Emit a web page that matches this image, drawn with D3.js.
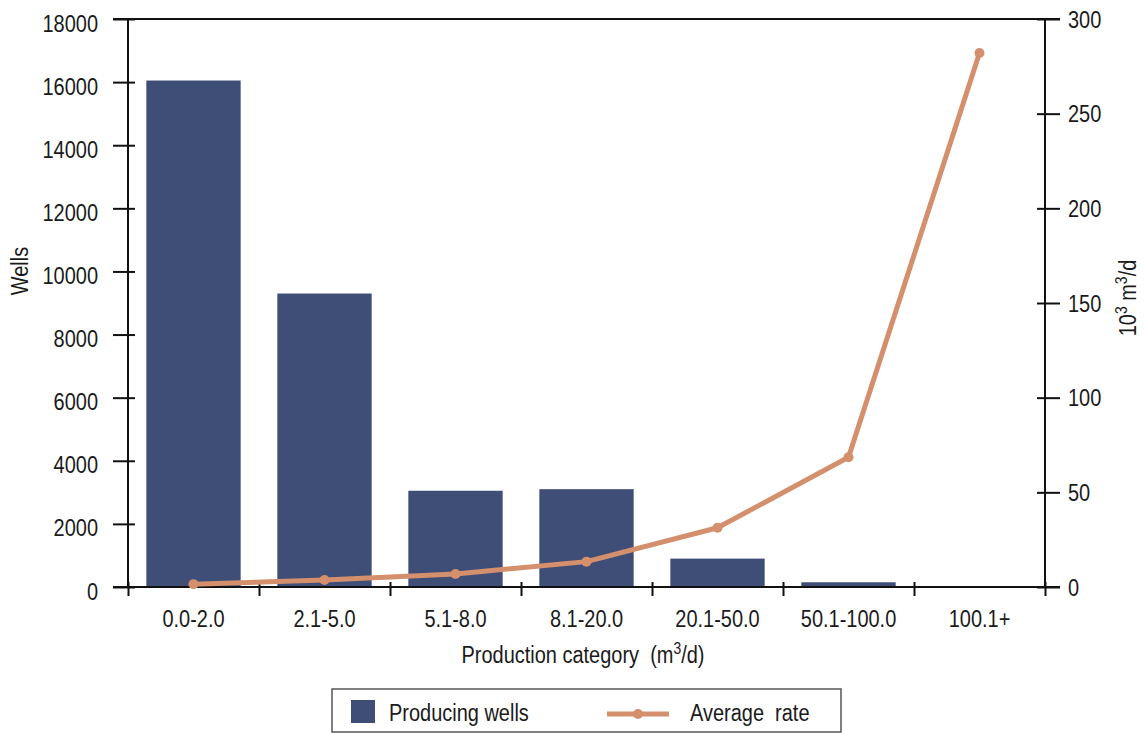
<!DOCTYPE html>
<html>
<head>
<meta charset="utf-8">
<script src="https://cdn.jsdelivr.net/npm/d3@7"></script>
<style>
  body { margin: 0; background: #fff; }
  svg { display: block; font-family: "Liberation Sans", Arial, sans-serif; }
  text { fill: #1a1a1a; }
</style>
</head>
<body>
<svg id="chart"></svg>
<script>
const categories = ['0.0-2.0', '2.1-5.0', '5.1-8.0', '8.1-20.0', '20.1-50.0', '50.1-100.0', '100.1+'];
const producingWells = [16050, 9300, 3050, 3100, 900, 150, 0];
const averageRate = [1.5, 3.7, 6.9, 13.4, 31.3, 68.5, 282];
const leftTicks = [0, 2000, 4000, 6000, 8000, 10000, 12000, 14000, 16000, 18000];
const rightTicks = [0, 50, 100, 150, 200, 250, 300];

const size = {w: 1146, h: 734};
const plot = {l: 128, r: 1045, t: 19, b: 587};
const barColor = '#3f4e77';
const lineColor = '#d48f6c';
const fs = 23.5;      // font size
const sx = 0.85;      // narrow font look

const svg = d3.select('svg#chart')
    .attr('width', size.w)
    .attr('height', size.h);

const x = d3.scaleBand()
    .domain(categories)
    .range([plot.l, plot.r])
    .paddingInner(0.28)
    .paddingOuter(0.14);

const xEdges = d3.scaleLinear()
    .domain([0, categories.length])
    .range([plot.l, plot.r]);

const yL = d3.scaleLinear().domain([0, 18000]).range([plot.b, plot.t]);
const yR = d3.scaleLinear().domain([0, 300]).range([plot.b, plot.t]);

// bars
svg.append('g')
    .selectAll('rect')
    .data(producingWells)
    .join('rect')
    .attr('x', (d, i) => x(categories[i]))
    .attr('y', d => yL(d))
    .attr('width', x.bandwidth())
    .attr('height', d => yL(0) - yL(d))
    .attr('fill', barColor);

// frame line on top
svg.append('line')
    .attr('x1', plot.l - 15).attr('x2', plot.r + 15)
    .attr('y1', plot.t).attr('y2', plot.t)
    .attr('stroke', '#111').attr('stroke-width', 2);

// left axis
svg.append('g')
    .attr('transform', `translate(${plot.l},0)`)
    .call(d3.axisLeft(yL).tickValues(leftTicks).tickSize(15).tickFormat(d => d))
    .call(g => g.select('.domain').remove())
    .call(g => g.selectAll('.tick line').attr('x1', 7).attr('stroke', '#111').attr('stroke-width', 2))
    .call(g => g.selectAll('.tick text')
        .attr('font-size', fs)
        .attr('x', null).attr('dy', null)
        .attr('transform', `translate(-30,12) scale(${sx},1)`));

// right axis
svg.append('g')
    .attr('transform', `translate(${plot.r},0)`)
    .call(d3.axisRight(yR).tickValues(rightTicks).tickSize(15))
    .call(g => g.select('.domain').remove())
    .call(g => g.selectAll('.tick line').attr('x1', -8).attr('stroke', '#111').attr('stroke-width', 2))
    .call(g => g.selectAll('.tick text')
        .attr('font-size', fs)
        .attr('x', null).attr('dy', null)
        .attr('transform', `translate(23,8) scale(${sx},1)`));

svg.append('line')
    .attr('x1', plot.l).attr('x2', plot.l)
    .attr('y1', plot.t).attr('y2', plot.b)
    .attr('stroke', '#111').attr('stroke-width', 2);
svg.append('line')
    .attr('x1', plot.r).attr('x2', plot.r)
    .attr('y1', plot.t).attr('y2', plot.b)
    .attr('stroke', '#111').attr('stroke-width', 2);

// bottom axis: ticks at band edges
svg.append('g')
    .attr('transform', `translate(0,${plot.b})`)
    .call(d3.axisBottom(xEdges).tickValues(d3.range(0, categories.length + 1)).tickSize(9).tickFormat(''))
    .call(g => g.select('.domain').remove())
    .call(g => g.selectAll('.tick line').attr('y1', -5).attr('stroke', '#111').attr('stroke-width', 2));

svg.append('line')
    .attr('x1', plot.l - 15).attr('x2', plot.r + 15)
    .attr('y1', plot.b).attr('y2', plot.b)
    .attr('stroke', '#111').attr('stroke-width', 2);

// category labels
svg.append('g')
    .attr('transform', `translate(0,${plot.b})`)
    .call(d3.axisBottom(x).tickSize(0))
    .call(g => g.select('.domain').remove())
    .call(g => g.selectAll('.tick text')
        .attr('font-size', fs)
        .attr('y', null).attr('dy', null)
        .attr('transform', `translate(0,40) scale(${sx},1)`));

// average rate line
const line = d3.line()
    .x((d, i) => x(categories[i]) + x.bandwidth() / 2)
    .y(d => yR(d));

svg.append('path')
    .datum(averageRate)
    .attr('d', line)
    .attr('fill', 'none')
    .attr('stroke', lineColor)
    .attr('stroke-width', 5)
    .attr('stroke-linejoin', 'round');

svg.append('g')
    .selectAll('circle')
    .data(averageRate)
    .join('circle')
    .attr('cx', (d, i) => x(categories[i]) + x.bandwidth() / 2)
    .attr('cy', d => yR(d))
    .attr('r', 5)
    .attr('fill', lineColor);

// axis titles
const xTitle = svg.append('text')
    .attr('transform', `translate(583,663) scale(${sx},1)`)
    .attr('text-anchor', 'middle')
    .attr('font-size', fs)
    .style('white-space', 'pre');
xTitle.append('tspan').text('Production category  (m');
xTitle.append('tspan').attr('dy', -9).attr('font-size', fs * 0.7).text('3');
xTitle.append('tspan').attr('dy', 9).text('/d)');

svg.append('text')
    .attr('transform', `translate(28,271) rotate(-90) scale(${sx},1)`)
    .attr('text-anchor', 'middle')
    .attr('font-size', fs)
    .text('Wells');

const rTitle = svg.append('text')
    .attr('transform', `translate(1136,298) rotate(-90) scale(${sx},1)`)
    .attr('text-anchor', 'middle')
    .attr('font-size', fs)
    .style('white-space', 'pre');
rTitle.append('tspan').text('10');
rTitle.append('tspan').attr('dy', -9).attr('font-size', fs * 0.7).text('3');
rTitle.append('tspan').attr('dy', 9).text(' m');
rTitle.append('tspan').attr('dy', -9).attr('font-size', fs * 0.7).text('3');
rTitle.append('tspan').attr('dy', 9).text('/d');

// legend
const legend = svg.append('g');
legend.append('rect')
    .attr('x', 332).attr('y', 689)
    .attr('width', 509).attr('height', 43)
    .attr('fill', 'none')
    .attr('stroke', '#555')
    .attr('stroke-width', 1.5);
legend.append('rect')
    .attr('x', 351).attr('y', 700)
    .attr('width', 24).attr('height', 23)
    .attr('fill', barColor);
legend.append('text')
    .attr('transform', `translate(389,721) scale(${sx},1)`)
    .attr('font-size', fs)
    .text('Producing wells');
legend.append('line')
    .attr('x1', 607).attr('x2', 669)
    .attr('y1', 714).attr('y2', 714)
    .attr('stroke', lineColor)
    .attr('stroke-width', 5);
legend.append('circle')
    .attr('cx', 638).attr('cy', 714).attr('r', 5)
    .attr('fill', lineColor);
legend.append('text')
    .attr('transform', `translate(690,721) scale(${sx},1)`)
    .attr('font-size', fs)
    .style('white-space', 'pre')
    .text('Average  rate');
</script>
</body>
</html>
